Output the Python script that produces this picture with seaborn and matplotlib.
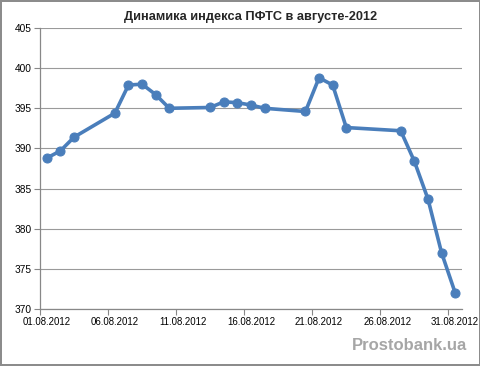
import pandas as pd
import matplotlib
matplotlib.use("Agg")
import matplotlib.pyplot as plt
import matplotlib.dates as mdates
import seaborn as sns

# trading days of August 2012 and PFTS index close values
days = [1, 2, 3, 6, 7, 8, 9, 10, 13, 14, 15, 16, 17, 20, 21, 22, 23, 27, 28, 29, 30, 31]
values = [388.8, 389.7, 391.4, 394.4, 397.9, 398.0, 396.7, 395.0, 395.1, 395.8, 395.7,
          395.4, 395.0, 394.6, 398.8, 397.9, 392.6, 392.2, 388.4, 383.7, 377.0, 372.0]
tick_days = [1, 6, 11, 16, 21, 26, 31]
y_ticks = [370, 375, 380, 385, 390, 395, 400, 405]

title = "Динамика индекса ПФТС в августе-2012"
watermark = "Prostobank.ua"

# points sit in the middle of each day (Excel date axis style)
dates = pd.to_datetime(["2012-08-%02d 12:00" % d for d in days])
df = pd.DataFrame({"date": dates, "value": values})

sns.set_theme(style="white")
plt.rcParams["font.family"] = ["Liberation Sans", "DejaVu Sans"]

fig = plt.figure(figsize=(4.81, 3.66), dpi=100)
fig.patch.set_facecolor("white")
fig.patch.set_edgecolor("#8c8c8c")
fig.patch.set_linewidth(1.5)
ax = fig.add_axes([40 / 481, 1 - 309 / 366, 422 / 481, 281 / 366])

sns.lineplot(data=df, x="date", y="value", ax=ax, color="#4a7ebb", linewidth=2.6,
             marker="o", markersize=6.5, markeredgecolor="#4a7ebb")

ax.set_xlim(pd.Timestamp("2012-08-01"), pd.Timestamp("2012-09-01"))
ax.set_ylim(370, 405)
ax.set_yticks(y_ticks)
# labels centred on the day, tick marks on the day boundary
ax.set_xticks(pd.to_datetime(["2012-08-%02d 12:00" % d for d in tick_days]))
ax.set_xticks(pd.to_datetime(["2012-08-%02d" % d for d in tick_days]), minor=True)
ax.xaxis.set_major_formatter(mdates.DateFormatter("%d.%m.%Y"))
ax.set_xlabel("")
ax.set_ylabel("")

ax.yaxis.grid(True, color="#9a9a9a", linewidth=0.8)
ax.xaxis.grid(False)
for s in ["top", "right"]:
    ax.spines[s].set_visible(False)
for s in ["left", "bottom"]:
    ax.spines[s].set_color("#888888")
    ax.spines[s].set_linewidth(0.9)
ax.tick_params(axis="both", direction="out", length=4, width=0.8, color="#888888",
               labelsize=7.3, labelcolor="black", pad=2)
ax.tick_params(axis="y", left=True)
ax.tick_params(axis="x", which="major", bottom=True, length=0, pad=6, labelsize=6.9)
ax.tick_params(axis="x", which="minor", bottom=True, length=4, width=0.8, color="#888888")
ax.get_xticklabels()[-1].set_x(pd.Timestamp("2012-08-31 12:00"))

ax.set_title(title, fontsize=9.2, fontweight="bold", pad=6)
fig.text(467 / 481, 1 - 345 / 366, watermark, ha="right", va="center",
         fontsize=12, fontweight="bold", color="#a6a6a6")

fig.savefig("out.png", dpi=100, facecolor=fig.get_facecolor(), edgecolor=fig.get_edgecolor())
